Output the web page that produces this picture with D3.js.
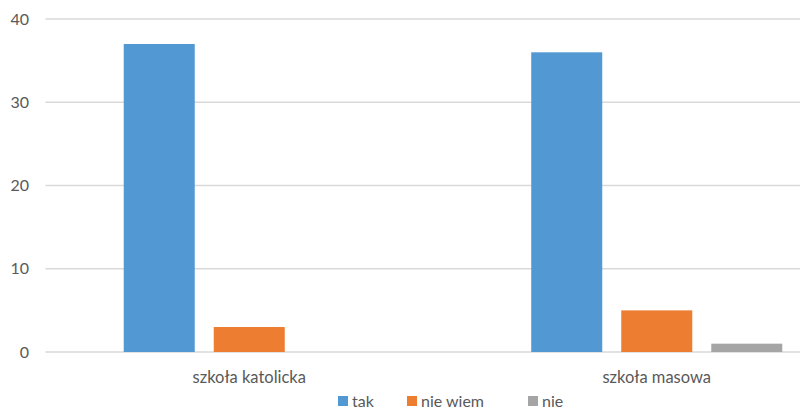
<!DOCTYPE html>
<html>
<head>
<meta charset="utf-8">
<script src="https://cdn.jsdelivr.net/npm/d3@7"></script>
<style>
  body { margin: 0; background: #fff; }
  text { font-family: Lato, "Open Sans", sans-serif; fill: #595959; }
</style>
</head>
<body>
<svg id="viz" width="800" height="411"></svg>
<script>
// chart data
var categories = ['szkoła katolicka', 'szkoła masowa'];
var seriesNames = ['tak', 'nie wiem', 'nie'];
var takValues = [37, 36];
var nieWiemValues = [3, 5];
var nieValues = [0, 1];
var yTicks = [0, 10, 20, 30, 40];

var colors = ['#5299D4', '#ED7D31', '#A5A5A5'];
var seriesValues = [takValues, nieWiemValues, nieValues];

var svg = d3.select('#viz');

// plot area runs past the right edge (picture is cropped)
var x0 = d3.scaleBand().domain(categories).range([45.5, 860.5]);
var x1 = d3.scaleBand().domain(seriesNames).range([0, x0.bandwidth()])
  .paddingInner(19 / 90).paddingOuter(0.869);
var y = d3.scaleLinear().domain([0, 40]).range([352, 19]);

// gridlines
svg.append('g')
  .selectAll('line')
  .data(yTicks)
  .join('line')
  .attr('x1', 45.5)
  .attr('x2', 800)
  .attr('y1', (d) => y(d))
  .attr('y2', (d) => y(d))
  .attr('stroke', '#d9d9d9')
  .attr('stroke-width', 1.5);

// y labels
svg.append('g')
  .selectAll('text')
  .data(yTicks)
  .join('text')
  .attr('x', 29)
  .attr('y', (d) => y(d))
  .attr('dy', '0.35em')
  .attr('text-anchor', 'end')
  .style('font-size', '16px')
  .text((d) => d);

// bars
var rows = [];
categories.forEach(function (c, i) {
  seriesNames.forEach(function (s, j) {
    rows.push({ cat: c, series: s, value: seriesValues[j][i], color: colors[j] });
  });
});

svg.append('g')
  .selectAll('rect')
  .data(rows)
  .join('rect')
  .attr('x', (d) => x0(d.cat) + x1(d.series))
  .attr('width', x1.bandwidth())
  .attr('y', (d) => y(d.value))
  .attr('height', (d) => y(0) - y(d.value))
  .attr('fill', (d) => d.color);

// category labels
svg.append('g')
  .selectAll('text')
  .data(categories)
  .join('text')
  .attr('x', (d) => x0(d) + x0.bandwidth() / 2)
  .attr('y', 383)
  .attr('text-anchor', 'middle')
  .style('font-size', '16.5px')
  .text((d) => d);

// legend
var legendX = [338, 407, 528];
var legend = svg.append('g')
  .selectAll('g')
  .data(seriesNames)
  .join('g')
  .attr('transform', (d, i) => 'translate(' + legendX[i] + ',396)');

legend.append('rect')
  .attr('width', 10)
  .attr('height', 10)
  .attr('fill', (d, i) => colors[i]);

legend.append('text')
  .attr('x', 14)
  .attr('y', 5)
  .attr('dy', '0.35em')
  .style('font-size', '16px')
  .text((d) => d);
</script>
</body>
</html>
